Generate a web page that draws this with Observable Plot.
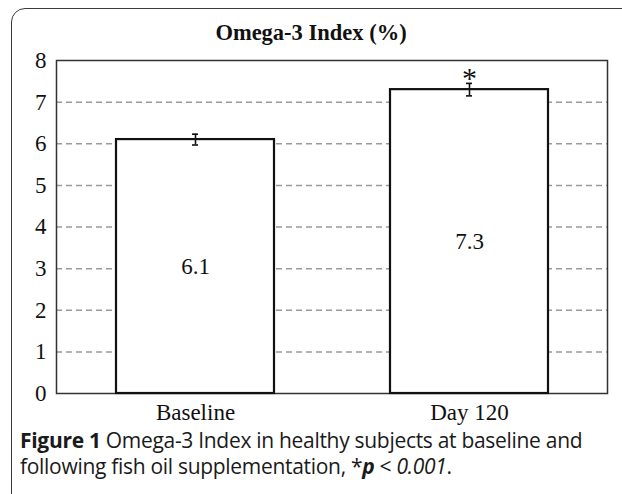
<!DOCTYPE html>
<html>
<head>
<meta charset="utf-8">
<script src="https://cdn.jsdelivr.net/npm/d3@7"></script>
<script src="https://cdn.jsdelivr.net/npm/@observablehq/plot@0.6"></script>
<style>
  html, body { margin: 0; padding: 0; background: #fff; overflow: hidden; width: 622px; height: 494px; }
  #wrap { position: relative; width: 622px; height: 494px; }
  #box { position: absolute; left: 11px; top: 8px; width: 700px; height: 600px;
         border: 1.5px solid #3a3a3a; border-top-left-radius: 14px; box-sizing: border-box; }
  #chart { position: absolute; left: 0; top: 0; }
  #caption { position: absolute; left: 20px; top: 427px; width: 598px;
             font-family: "Open Sans", "Noto Sans", sans-serif; font-size: 21px; line-height: 26px;
             color: #1a1a1a; letter-spacing: -0.3px; white-space: nowrap; }
  #caption b { font-weight: 700; }
</style>
</head>
<body>
<div id="wrap">
  <div id="box"></div>
  <div id="chart"></div>
  <div id="caption"><b>Figure 1</b> Omega-3 Index in healthy subjects at baseline and<br>following fish oil supplementation, *<b><i>p</i></b> &lt; <i>0.001</i>.</div>
</div>
<script>
const title = "Omega-3 Index (%)";
const categories = ["Baseline", "Day 120"];
const values = [6.1, 7.3];
const errors = [0.13, 0.15];
const valueLabels = ["6.1", "7.3"];
const significance = ["", "*"];
const yTicks = [0, 1, 2, 3, 4, 5, 6, 7, 8];
const gridTicks = [1, 2, 3, 4, 5, 6, 7];

const data = categories.map((c, i) => ({
  cat: c, value: values[i], err: errors[i], label: valueLabels[i], sig: significance[i]
}));

const serif = "'Liberation Serif', 'Times New Roman', serif";

const chart = Plot.plot({
  width: 622,
  height: 430,
  marginTop: 60,
  marginBottom: 37,
  marginLeft: 56,
  marginRight: 15,
  style: { fontFamily: serif, fontSize: "23px", color: "#111", background: "transparent" },
  x: { domain: categories, paddingInner: 0.425, paddingOuter: 0.215, label: null },
  y: { domain: [0, 8], ticks: yTicks, label: null },
  marks: [
    Plot.ruleY(gridTicks, { stroke: "#9a9a9a", strokeWidth: 1.5, strokeDasharray: "6,4" }),
    Plot.frame({ stroke: "#333", strokeWidth: 1.5 }),
    Plot.axisY({ ticks: yTicks, tickSize: 0, tickPadding: 10, fontSize: 23, fill: "#111" }),
    Plot.axisX({ tickSize: 0, tickPadding: 10, fontSize: 23, fill: "#111" }),
    Plot.barY(data, { x: "cat", y: "value", fill: "white", stroke: "#111", strokeWidth: 2.2 }),
    Plot.ruleX(data, { x: "cat", y1: d => d.value - d.err, y2: d => d.value + d.err, stroke: "#111", strokeWidth: 1.6 }),
    Plot.tickY(data, { x: "cat", y: d => d.value - d.err, stroke: "#111", strokeWidth: 1.6, insetLeft: 76, insetRight: 76 }),
    Plot.tickY(data, { x: "cat", y: d => d.value + d.err, stroke: "#111", strokeWidth: 1.6, insetLeft: 76, insetRight: 76 }),
    Plot.text(data, { x: "cat", y: d => d.value / 2, text: "label", fontSize: 23, fill: "#111" }),
    Plot.text(data, { x: "cat", y: d => d.value + d.err, text: "sig", fontSize: 30, dy: -5, fill: "#111" }),
    Plot.text([title], { frameAnchor: "top", dx: -21, dy: -36, fontSize: 22.5, fontWeight: "bold", fill: "#111" })
  ]
});
document.getElementById("chart").appendChild(chart);
</script>
</body>
</html>
